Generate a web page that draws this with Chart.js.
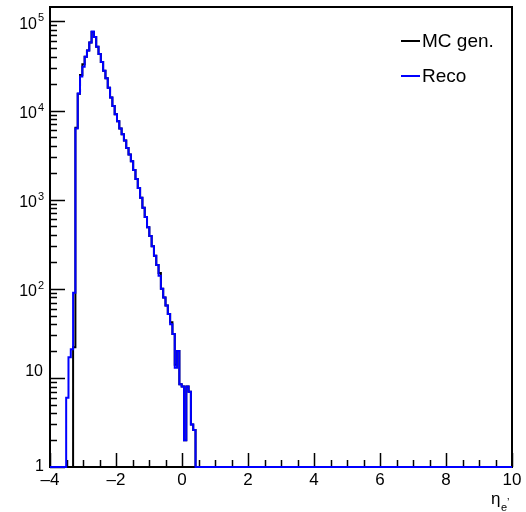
<!DOCTYPE html>
<html>
<head>
<meta charset="utf-8">
<script src="https://cdn.jsdelivr.net/npm/chart.js@4/dist/chart.umd.min.js"></script>
<style>
  html, body { margin: 0; padding: 0; background: #fff; }
  canvas { display: block; }
</style>
</head>
<body>
<canvas id="etaChart" width="526" height="512"></canvas>
<script>
// eta of the scattered electron, bins of 0.07 from -4 to 10 (only the filled ones listed)
const etaLowEdges = [
    -3.51, -3.44, -3.37, -3.30, -3.23, -3.16, -3.09, -3.02, -2.95, -2.88,
    -2.81, -2.74, -2.67, -2.60, -2.53, -2.46, -2.39, -2.32, -2.25, -2.18,
    -2.11, -2.04, -1.97, -1.90, -1.83, -1.76, -1.69, -1.62, -1.55, -1.48,
    -1.41, -1.34, -1.27, -1.20, -1.13, -1.06, -0.99, -0.92, -0.85, -0.78,
    -0.71, -0.64, -0.57, -0.50, -0.43, -0.36, -0.29, -0.22, -0.15, -0.08,
    -0.01, 0.06, 0.13, 0.20, 0.27, 0.34
];
const etaLastEdge = 0.41;

const recoCounts = [
    6, 17, 21, 90, 6300, 15500, 24000, 31000, 40000, 47000,
    58000, 77000, 67000, 52000, 43000, 35000, 28000, 23000, 18000, 14000,
    11200, 9100, 7600, 6300, 5400, 4600, 3800, 3200, 2700, 2150,
    1700, 1350, 1050, 810, 640, 490, 390, 300, 235, 185,
    140, 100, 80, 65, 52, 40, 31, 13, 20, 8.5,
    8, 2, 8, 7, 3, 2.6
];
const mcGenCounts = [
    0, 0, 0, 22, 6400, 15400, 25000, 33000, 40000, 47000,
    58000, 76000, 67000, 52000, 43000, 35000, 28000, 23000, 18000, 14000,
    11200, 9100, 7600, 6300, 5400, 4600, 3800, 3200, 2700, 2150,
    1700, 1350, 1050, 810, 640, 490, 390, 300, 235, 185,
    150, 100, 80, 65, 52, 42, 31, 14, 20, 8.5,
    8, 2, 8, 7, 3, 2.6
];

const xRange = [-4, 10];
const yRange = [1, 145000];
const xMajorTicks = [-4, -2, 0, 2, 4, 6, 8, 10];
const xTickLabels = ['\u20134', '\u20132', '0', '2', '4', '6', '8', '10'];
const yDecades = [1, 10, 100, 1000, 10000, 100000];
const yTickLabels = [['1', ''], ['10', ''], ['10', '2'], ['10', '3'], ['10', '4'], ['10', '5']];

const FONT = '"Liberation Sans", Arial, Helvetica, sans-serif';

// histogram -> step points; empty bins sit on the axis minimum like ROOT does on log scale
function histPoints(counts) {
    let pts = [{ x: xRange[0], y: yRange[0] }];
    counts.forEach((v, i) => pts.push({ x: etaLowEdges[i], y: v > 0 ? v : yRange[0] }));
    pts.push({ x: etaLastEdge, y: yRange[0] });
    pts.push({ x: xRange[1], y: yRange[0] });
    return pts;
}

const rootFrame = {
    id: 'rootFrame',
    beforeDatasetsDraw(chart) {
        const { ctx, chartArea: a, scales: { x, y } } = chart;
        ctx.save();
        ctx.strokeStyle = '#000';
        ctx.lineWidth = 2;
        ctx.strokeRect(a.left, a.top, a.right - a.left, a.bottom - a.top);

        // x ticks, inside the frame
        ctx.lineWidth = 1.5;
        ctx.beginPath();
        for (let v = xRange[0]; v <= xRange[1] + 1e-9; v += 0.5) {
            const px = Math.round(x.getPixelForValue(v)) + 0.5;
            const len = xMajorTicks.includes(v) ? 14 : 7;
            ctx.moveTo(px, a.bottom);
            ctx.lineTo(px, a.bottom - len);
        }
        // y ticks
        yDecades.forEach(d => {
            for (let m = 1; m <= 9; m++) {
                const v = d * m;
                if (v > yRange[1]) break;
                const py = Math.round(y.getPixelForValue(v)) + 0.5;
                ctx.moveTo(a.left, py);
                ctx.lineTo(a.left + (m === 1 ? 15 : 7), py);
            }
        });
        ctx.stroke();

        // labels
        ctx.fillStyle = '#000';
        ctx.textBaseline = 'middle';
        ctx.textAlign = 'center';
        ctx.font = `17px ${FONT}`;
        xMajorTicks.forEach((v, i) => {
            ctx.fillText(xTickLabels[i], x.getPixelForValue(v), a.bottom + 13);
        });

        yDecades.forEach((d, i) => {
            const py = y.getPixelForValue(d);
            const [base, sup] = yTickLabels[i];
            if (!sup) {
                ctx.textAlign = 'right';
                ctx.font = `16px ${FONT}`;
                ctx.fillText(base, a.left - (d === 1 ? 6 : 7), py - (d === 1 ? 0 : 6));
            } else {
                ctx.textAlign = 'right';
                ctx.font = `11px ${FONT}`;
                ctx.fillText(sup, a.left - 6, py - 3);
                ctx.font = `16px ${FONT}`;
                ctx.fillText(base, a.left - 13, py + 3);
            }
        });

        // axis title eta_e'
        ctx.textAlign = 'left';
        ctx.textBaseline = 'alphabetic';
        ctx.font = `17px ${FONT}`;
        ctx.fillText('\u03b7', 491, 504);
        ctx.font = `11px ${FONT}`;
        ctx.fillText('e', 501, 511);
        ctx.fillText('\u2019', 507, 506);
        ctx.restore();
    },
    afterDraw(chart) {
        // legend, top right
        const { ctx } = chart;
        ctx.save();
        ctx.font = `19px ${FONT}`;
        ctx.textBaseline = 'middle';
        ctx.textAlign = 'left';
        const rows = [41, 76];
        chart.data.datasets.forEach((ds, i) => {
            ctx.strokeStyle = ds.borderColor;
            ctx.lineWidth = 2;
            ctx.beginPath();
            ctx.moveTo(401, rows[i]);
            ctx.lineTo(420, rows[i]);
            ctx.stroke();
            ctx.fillStyle = '#000';
            ctx.fillText(ds.label, 422, rows[i] + 1);
        });
        ctx.restore();
    }
};

new Chart(document.getElementById('etaChart'), {
    type: 'line',
    data: {
        datasets: [
            {
                label: 'MC gen.',
                data: histPoints(mcGenCounts),
                borderColor: '#000000',
                order: 1,
            },
            {
                label: 'Reco',
                data: histPoints(recoCounts),
                borderColor: '#0000ff',
                order: 0,
            }
        ]
    },
    options: {
        responsive: false,
        devicePixelRatio: 1,
        animation: false,
        layout: { padding: { left: 50, right: 14, top: 7, bottom: 45 } },
        datasets: {
            line: {
                stepped: 'before',
                borderWidth: 2,
                pointRadius: 0,
                fill: false,
                tension: 0,
                clip: false,
            }
        },
        plugins: { legend: { display: false }, tooltip: { enabled: false } },
        scales: {
            x: { type: 'linear', min: xRange[0], max: xRange[1], display: false },
            y: { type: 'logarithmic', min: yRange[0], max: yRange[1], display: false },
        }
    },
    plugins: [rootFrame]
});
</script>
</body>
</html>
